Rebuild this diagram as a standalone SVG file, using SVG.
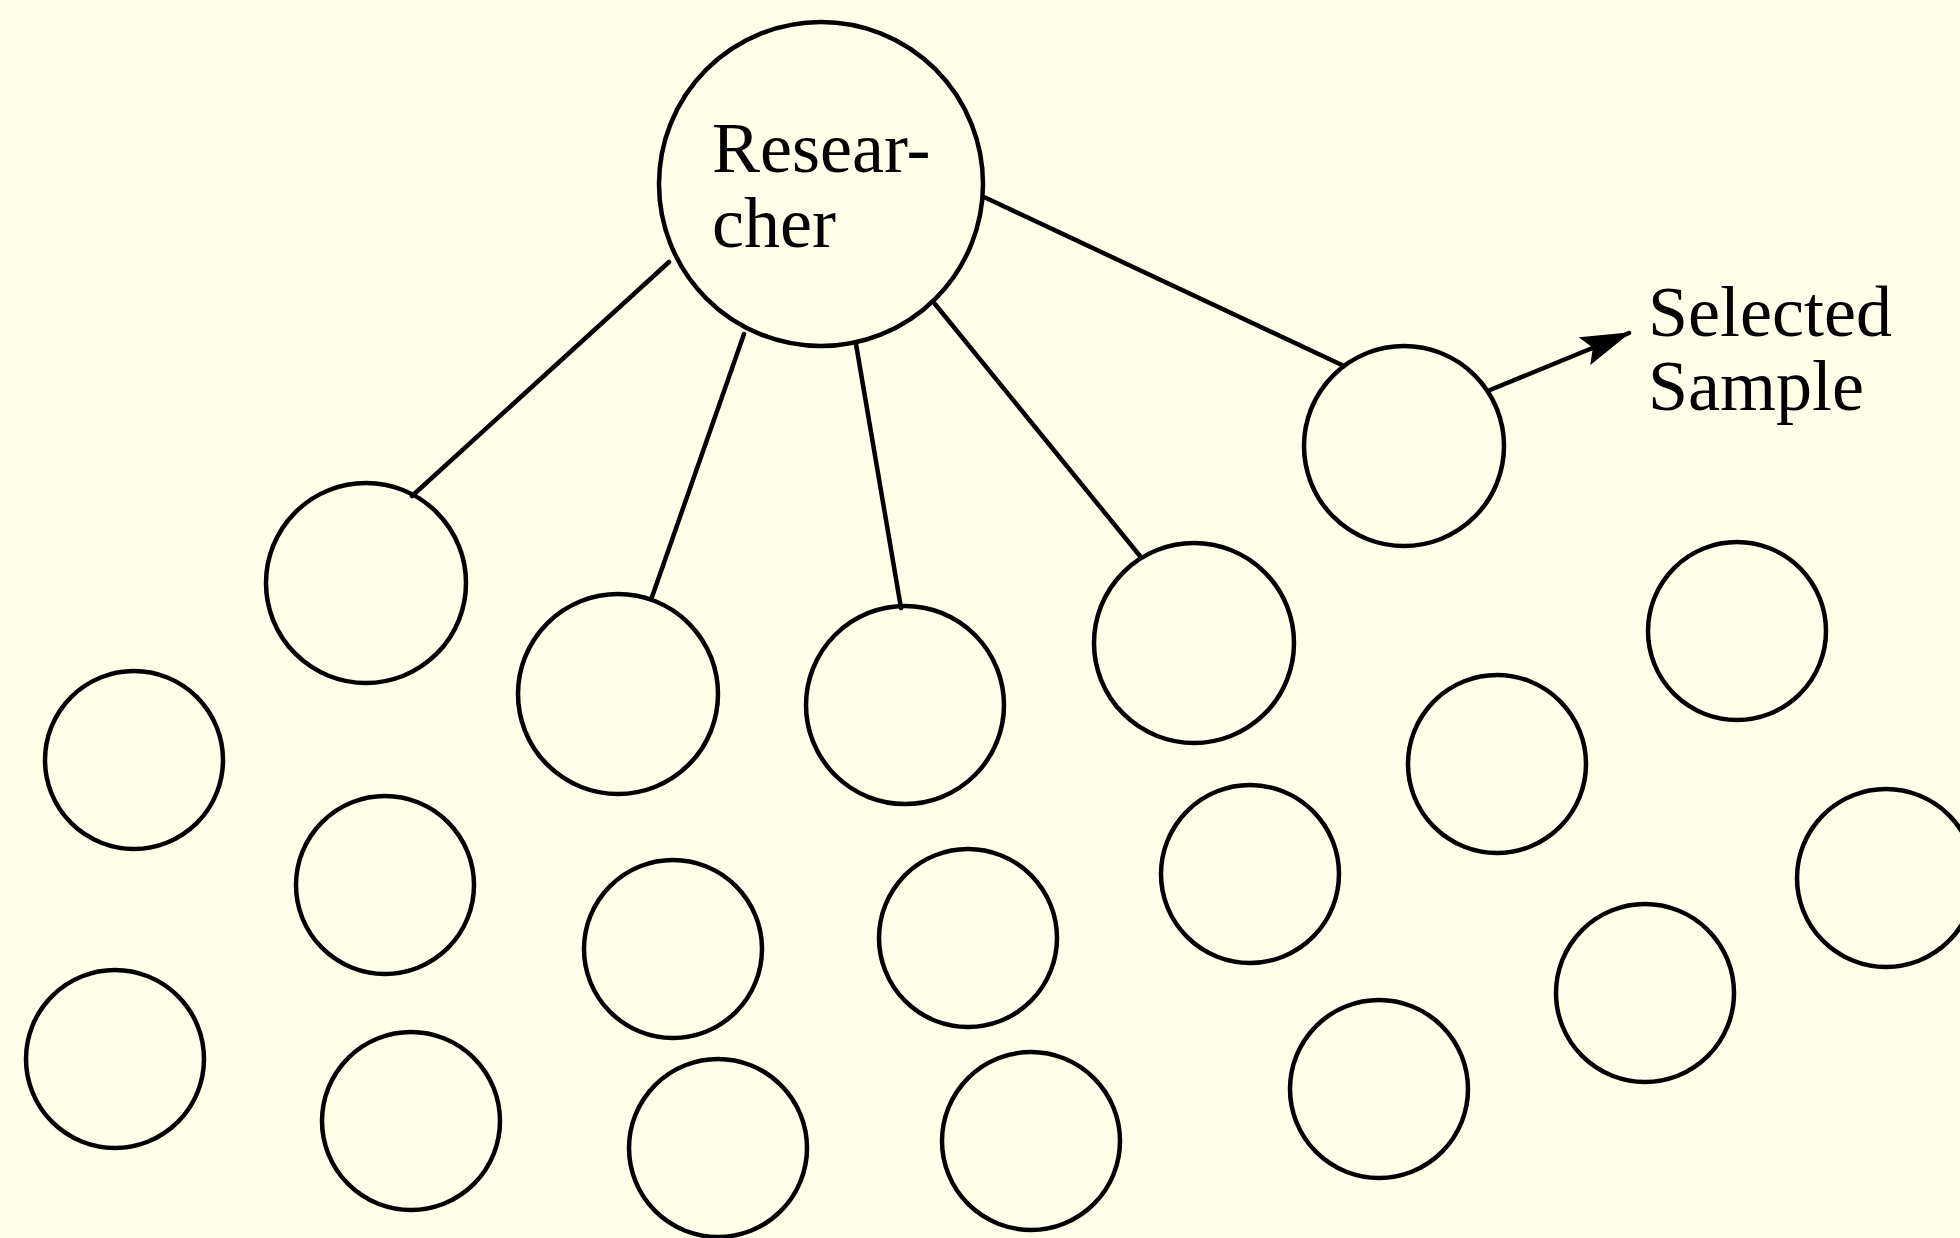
<svg xmlns="http://www.w3.org/2000/svg" width="1960" height="1238" viewBox="0 0 1960 1238">
  <style>
    .node { fill: none; stroke: #000; stroke-width: 4.5; }
    .link { stroke: #000; stroke-width: 4.5; stroke-linecap: round; fill: none; }
    .label { font-family: "Liberation Serif", "Times New Roman", serif; font-size: 72px; fill: #000; }
  </style>
  <defs>
    <marker id="arrow" viewBox="0 0 50 30" refX="48" refY="15" markerWidth="50" markerHeight="30" markerUnits="userSpaceOnUse" orient="auto">
      <path d="M0,0 L50,15 L0,30 L9,15 Z" fill="#000"/>
    </marker>
  </defs>
  <rect width="1960" height="1238" fill="#fefee9"/>

  <!-- connectors from the researcher to the sampled members -->
  <g id="connectors">
    <line class="link" x1="669" y1="262" x2="412" y2="496"/>
    <line class="link" x1="744" y1="334" x2="652" y2="597"/>
    <line class="link" x1="856" y1="344" x2="901" y2="608"/>
    <line class="link" x1="935" y1="304" x2="1140" y2="556"/>
    <line class="link" x1="984" y1="197" x2="1344" y2="366"/>
    <line class="link" x1="1490" y1="390" x2="1629" y2="333" marker-end="url(#arrow)"/>
  </g>

  <g id="researcher">
    <circle class="node" cx="821" cy="184" r="162"/>
    <text class="label" x="712" y="172">Resear-</text>
    <text class="label" x="712" y="247">cher</text>
  </g>

  <g id="selected-sample">
    <circle class="node" cx="1404" cy="446" r="100"/>
  </g>
  <g id="selected-label">
    <text class="label" x="1648" y="336">Selected</text>
    <text class="label" x="1648" y="410">Sample</text>
  </g>

  <!-- linked population members -->
  <g id="member-a"><circle class="node" cx="366" cy="583" r="100"/></g>
  <g id="member-b"><circle class="node" cx="618" cy="694" r="100"/></g>
  <g id="member-c"><circle class="node" cx="905" cy="705" r="99"/></g>
  <g id="member-d"><circle class="node" cx="1194" cy="643" r="100"/></g>

  <!-- remaining population members -->
  <g id="member-e"><circle class="node" cx="1737" cy="631" r="89"/></g>
  <g id="member-f"><circle class="node" cx="1497" cy="764" r="89"/></g>
  <g id="member-g"><circle class="node" cx="1250" cy="874" r="89"/></g>
  <g id="member-h"><circle class="node" cx="1886" cy="878" r="89"/></g>
  <g id="member-i"><circle class="node" cx="1645" cy="993" r="89"/></g>
  <g id="member-j"><circle class="node" cx="1379" cy="1089" r="89"/></g>
  <g id="member-k"><circle class="node" cx="134" cy="760" r="89"/></g>
  <g id="member-l"><circle class="node" cx="385" cy="885" r="89"/></g>
  <g id="member-m"><circle class="node" cx="673" cy="949" r="89"/></g>
  <g id="member-n"><circle class="node" cx="968" cy="938" r="89"/></g>
  <g id="member-o"><circle class="node" cx="115" cy="1059" r="89"/></g>
  <g id="member-p"><circle class="node" cx="411" cy="1121" r="89"/></g>
  <g id="member-q"><circle class="node" cx="718" cy="1148" r="89"/></g>
  <g id="member-r"><circle class="node" cx="1031" cy="1141" r="89"/></g>
</svg>
